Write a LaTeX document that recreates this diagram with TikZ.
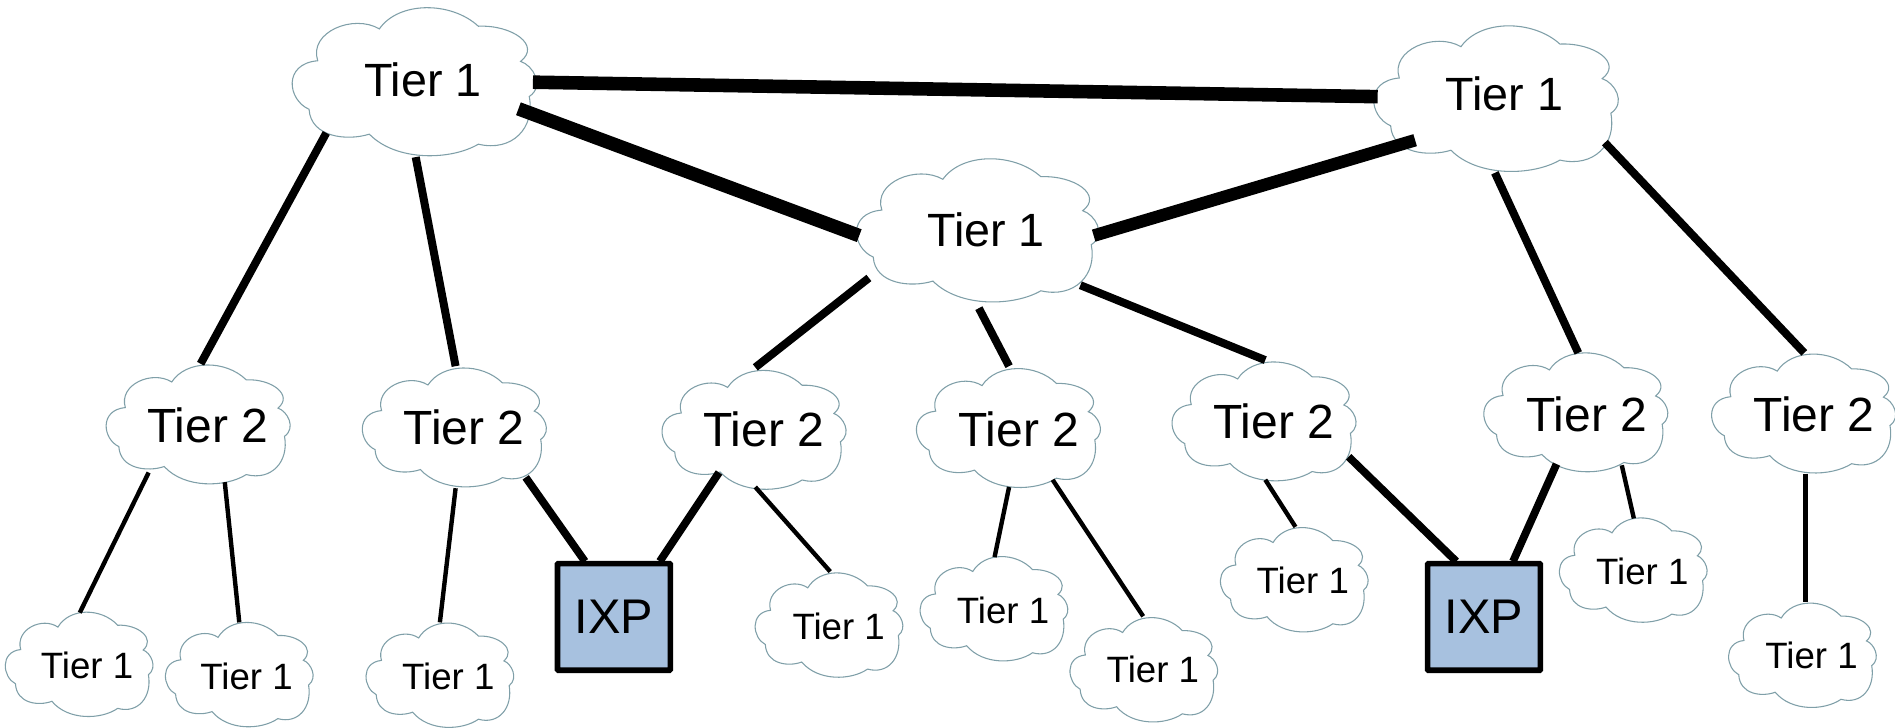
\documentclass[tikz,border=0pt]{standalone}
\usepackage{fontspec}
\setmainfont{Liberation Sans}
\usetikzlibrary{calc,shapes.geometric}
\definecolor{cloudedge}{HTML}{7F9FA8}
\definecolor{ixpfill}{HTML}{A7C1DF}
\tikzset{
  peerA/.style={line width=10.2pt,black},
  peerB/.style={line width=9.4pt,black},
  linkup/.style={line width=6pt,black},
  linkix/.style={line width=5.8pt,black},
  linklow/.style={line width=3.3pt,black},
  cloudoutline/.style={draw=cloudedge,line width=0.8pt,fill=white},
  cloudanchor/.style={ellipse,inner sep=0pt,outer sep=0pt},
  toplabel/.style={font=\fontsize{35}{39}\selectfont,text=black,inner sep=0pt},
  biglabel/.style={font=\fontsize{36}{40}\selectfont,text=black,inner sep=0pt},
  smalllabel/.style={font=\fontsize{27.5}{31}\selectfont,text=black,inner sep=0pt},
  ixpbox/.style={draw=black,fill=ixpfill,line width=4.2pt,rounded corners=0.6pt,minimum width=84.6pt,minimum height=80pt,inner sep=0pt,font=\fontsize{36.5}{40}\selectfont},
}
% #1 name, #2 cx, #3 cy, #4 half width, #5 half height, #6 label x, #7 label y, #8 label style, #9 text
\newcommand{\netcloud}[9]{%
  \begin{scope}[shift={(#2,#3)},xscale=#4,yscale=#5]
    \path[cloudoutline] (-.864,.368)
      .. controls (-1.04,.24) and (-1.08,-.25) .. (-.793,-.291)
      .. controls (-.87,-.68) and (-.5,-.93) .. (-.288,-.723)
      .. controls (-.13,-1.1) and (.3,-1.1) .. (.523,-.759)
      .. controls (.80,-.78) and (1.04,-.50) .. (.869,-.282)
      .. controls (.97,-.23) and (1.07,.05) .. (.94,.195)
      .. controls (.99,.62) and (.80,.95) .. (.523,.841)
      .. controls (.3,1.06) and (-.15,1.08) .. (-.37,.705)
      .. controls (-.55,.80) and (-.85,.75) .. (-.864,.368) -- cycle;
  \end{scope}
  \node[cloudanchor,minimum width={2*#4*0.9064pt},minimum height={2*#5*0.9064pt}] (#1) at (#2,#3) {};
  \node[#8] (#1text) at (#6,#7) {#9};
}
\begin{document}
\begin{tikzpicture}[x=0.9064pt,y=-0.9064pt]
\useasboundingbox (0,0) rectangle (1568.1,602.4);
% big clouds
\netcloud{A}{343}{68}{101}{61}{350}{66}{toplabel}{Tier 1}
\netcloud{B}{1238}{82}{101}{60}{1245}{78}{toplabel}{Tier 1}
\netcloud{C}{809}{191}{100}{59}{816}{190}{toplabel}{Tier 1}
% medium clouds
\netcloud{a}{164}{351.5}{76}{49}{172}{352}{biglabel}{Tier 2}
\netcloud{b}{376}{354}{76}{49}{384}{354}{biglabel}{Tier 2}
\netcloud{c}{624}{356}{76}{49}{632}{355}{biglabel}{Tier 2}
\netcloud{d}{834.5}{354.5}{76}{49}{843}{355}{biglabel}{Tier 2}
\netcloud{e}{1046}{349}{76}{49}{1054}{349}{biglabel}{Tier 2}
\netcloud{f}{1304}{341.5}{76}{49}{1313}{343}{biglabel}{Tier 2}
\netcloud{g}{1492.5}{342.5}{76}{49}{1501}{343}{biglabel}{Tier 2}
% small clouds
\netcloud{s1}{65.5}{550}{61}{43}{72}{551}{smalllabel}{Tier 1}
\netcloud{s2}{198}{558.5}{61}{43}{204}{560}{smalllabel}{Tier 1}
\netcloud{s3}{364}{559}{61}{43}{371}{560}{smalllabel}{Tier 1}
\netcloud{s4}{686}{517.5}{61}{43}{694}{518}{smalllabel}{Tier 1}
\netcloud{s5}{822.5}{504}{61}{43}{830}{505}{smalllabel}{Tier 1}
\netcloud{s6}{946.5}{554.5}{61}{43}{954}{554}{smalllabel}{Tier 1}
\netcloud{s7}{1071}{480}{61}{43}{1078}{480}{smalllabel}{Tier 1}
\netcloud{s8}{1351.5}{472}{61}{43}{1359}{473}{smalllabel}{Tier 1}
\netcloud{s9}{1491.5}{542.5}{61}{43}{1499}{542}{smalllabel}{Tier 1}
% exchange points
\node[ixpbox] (I1) at (508,510.5) {IXP};
\node[ixpbox] (I2) at (1228,510.5) {IXP};
% peering links
\draw[peerA] ($(A)+(98,0)$) -- ($(B)+(-98,-2)$);
\draw[peerA] ($(A)+(86,22)$) -- ($(C)+(-98,4)$);
\draw[peerB] ($(C)+(96,4)$) -- ($(B)+(-67,34)$);
% tier 1 to tier 2
\draw[linkup] ($(A)+(-73,42)$) -- ($(a)+(2,-50.5)$);
\draw[linkup] ($(A)+(1,62)$) -- ($(b)+(1,-51)$);
\draw[linkup] ($(C)+(-90,39)$) -- ($(c)+(1,-52)$);
\draw[linkup] ($(C)+(1,64)$) -- ($(d)+(0.5,-51.5)$);
\draw[linkup] ($(C)+(85,45)$) -- ($(e)+(1,-51)$);
\draw[linkup] ($(B)+(-1,61)$) -- ($(f)+(2,-49.5)$);
\draw[linkup] ($(B)+(90,36)$) -- ($(g)+(0.5,-50.5)$);
% tier 2 to small clouds
\draw[linklow] ($(a)+(-41,39.5)$) -- ($(s1)+(.5,-43)$);
\draw[linklow] ($(a)+(22,47.5)$) -- ($(s2)+(0,-43.5)$);
\draw[linklow] ($(b)+(1,50)$) -- ($(s3)+(0,-44)$);
\draw[linklow] ($(c)+(1,47)$) -- ($(s4)+(1,-44.5)$);
\draw[linklow] ($(d)+(0.5,48.5)$) -- ($(s5)+(.5,-43)$);
\draw[linklow] ($(d)+(36.5,42.5)$) -- ($(s6)+(-.5,-44.5)$);
\draw[linklow] ($(e)+(1,48)$) -- ($(s7)+(1,-44)$);
\draw[linklow] ($(f)+(38,43.5)$) -- ($(s8)+(.5,-43)$);
\draw[linklow] ($(g)+(1.5,49.5)$) -- ($(s9)+(2.5,-44.5)$);
% tier 2 to IXP
\draw[linkix] ($(b)+(59,41)$) -- ($(I1)+(-24,-46)$);
\draw[linkix] ($(c)+(-29,35)$) -- ($(I1)+(38,-46)$);
\draw[linkix] ($(e)+(70,29)$) -- ($(I2)+(-23,-46)$);
\draw[linkix] ($(f)+(-16,42.5)$) -- ($(I2)+(24,-46)$);
\end{tikzpicture}
\end{document}
